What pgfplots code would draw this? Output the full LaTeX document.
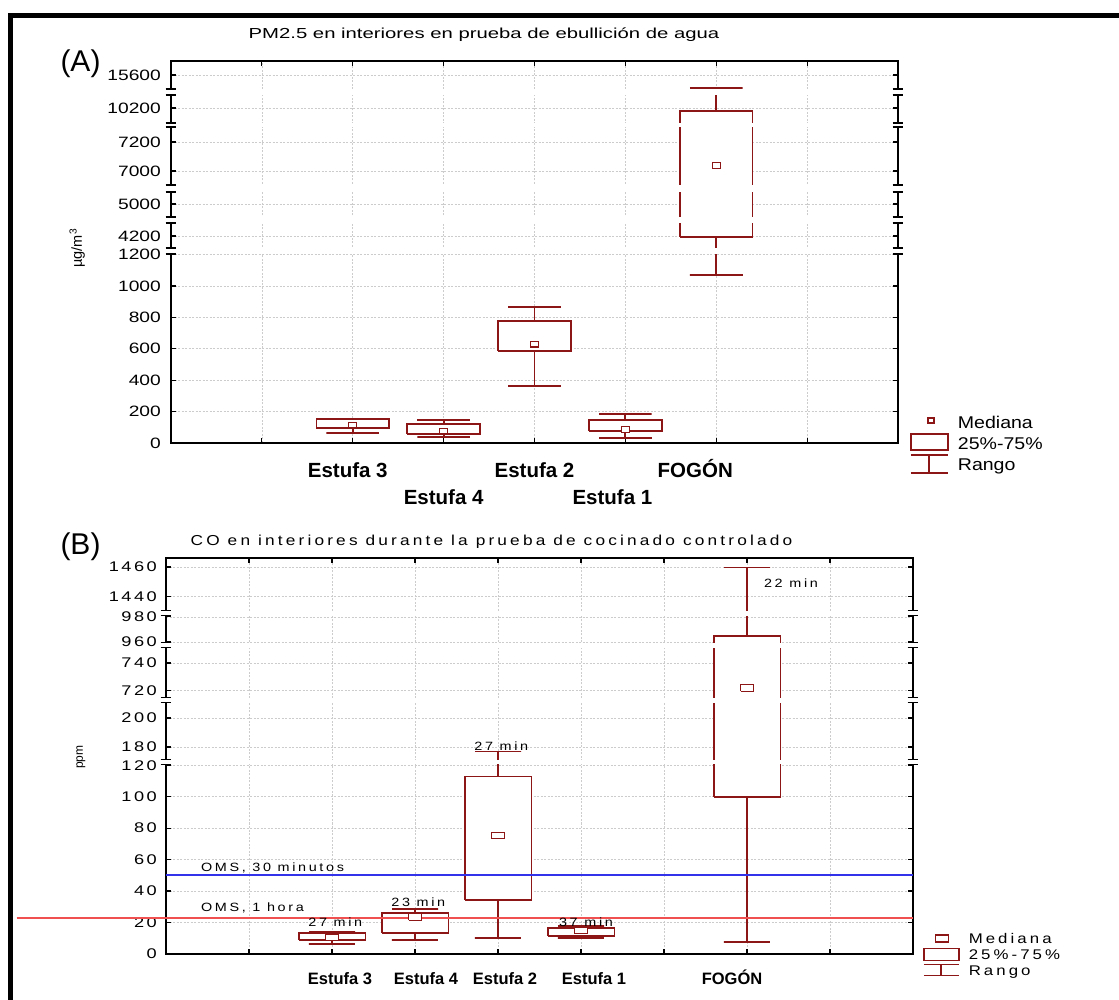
\documentclass[border=0pt]{standalone}
\usepackage{pgfplots}
\pgfplotsset{compat=1.18}
\usepackage{fontspec}
\setmainfont{Liberation Sans}
\newfontfamily\tickAfont{Liberation Sans}[FakeStretch=1.28]
\newfontfamily\titleAfont{Liberation Sans}[FakeStretch=1.4]
\newfontfamily\legAfont{Liberation Sans}[FakeStretch=1.15]
\newfontfamily\spaced{Liberation Sans}[FakeStretch=1.2,LetterSpace=22]
\newfontfamily\spacedT{Liberation Sans}[FakeStretch=1.3,LetterSpace=18]
\definecolor{boxred}{RGB}{140,22,22}
\definecolor{ohred}{RGB}{240,80,80}
\definecolor{whoblue}{RGB}{50,50,235}

% axis-break bands (white gap + short caps on both vertical axis lines)
\newcommand{\brkA}[2]{%
  \fill[white] (axis cs:-0.07,#1) rectangle (axis cs:8.07,#2);
  \draw[black,line width=1.3pt] (axis cs:-0.06,#1) -- (axis cs:0.06,#1)
     (axis cs:-0.06,#2) -- (axis cs:0.06,#2)
     (axis cs:7.94,#1) -- (axis cs:8.06,#1)
     (axis cs:7.94,#2) -- (axis cs:8.06,#2);}
\newcommand{\brkB}[2]{%
  \fill[white] (axis cs:-0.075,#1) rectangle (axis cs:9.075,#2);
  \draw[black,line width=1.2pt] (axis cs:-0.065,#1) -- (axis cs:0.065,#1)
     (axis cs:-0.065,#2) -- (axis cs:0.065,#2)
     (axis cs:8.935,#1) -- (axis cs:9.065,#1)
     (axis cs:8.935,#2) -- (axis cs:9.065,#2);}

\pgfplotsset{
  bA/.style={draw=boxred, fill=white, line width=1.8pt, line join=miter, forget plot},
  wA/.style={draw=boxred, line width=1.8pt, forget plot},
  mA/.style={draw=boxred, fill=white, line width=1.1pt, forget plot},
  bB/.style={draw=boxred, fill=white, line width=1.4pt, line join=miter, forget plot},
  wB/.style={draw=boxred, line width=1.4pt, forget plot},
  mB/.style={draw=boxred, fill=white, line width=1pt, forget plot},
  common/.style={scale only axis, clip=false,
    tick align=inside, major tick length=5pt,
    tick style={black, line width=1.2pt},
    grid=major,
    major grid style={gray!40, line width=0.6pt, dash pattern=on 2pt off 1.5pt}},
}

\begin{document}
\begin{tikzpicture}
\path[use as bounding box] (0pt,0pt) rectangle (1119pt,999pt);
\draw[line width=5pt] (10.5pt,-20pt) -- (10.5pt,983.5pt) -- (1140pt,983.5pt);

% ---------------- Panel A ----------------
\begin{axis}[common,
  at={(171pt,556pt)}, anchor=south west,
  width=727pt, height=382pt,
  xmin=0, xmax=8, ymin=0, ymax=2433,
  axis line style={line width=1.8pt},
  xtick={1,2,3,4,5,6,7},
  xticklabels={{}, {\hspace*{-10pt}Estufa 3}, {\raisebox{-27pt}{Estufa 4}}, {Estufa 2}, {\raisebox{-27pt}{\hspace*{-26pt}Estufa 1}}, {\hspace*{-42pt}FOGÓN}, {}},
  xticklabel style={anchor=north, inner sep=0pt, text height=15pt, yshift=-19pt, font=\bfseries\fontsize{20.5}{24}\selectfont},
  ytick={0,200,400,600,800,1000,1200,1318.5,1522,1732.5,1917,2134,2344},
  yticklabels={0,200,400,600,800,1000,1200,4200,5000,7000,7200,10200,15600},
  yticklabel style={anchor=east, inner sep=0pt, xshift=-10pt, font=\tickAfont\fontsize{15}{18}\selectfont},
  ylabel={µg/m\textsuperscript{3}},
  ylabel style={at={(axis description cs:-0.129,0.51)}, anchor=center, font=\fontsize{14.5}{16}\selectfont},
  legend style={at={(axis description cs:1.0165,0.0785)}, anchor=north west, draw=none, fill=none,
    inner sep=0pt, outer sep=0pt, row sep=0pt, column sep=0pt,
    cells={anchor=base west}, nodes={inner sep=0pt, text height=15pt, text depth=5pt},
    font=\legAfont\fontsize{17}{20}\selectfont},
]
% boxes (25%-75%)
\addplot[bA] coordinates {(1.6,96) (2.4,96) (2.4,153) (1.6,153) (1.6,96)};
\addplot[bA] coordinates {(2.6,57) (3.4,57) (3.4,121) (2.6,121) (2.6,57)};
\addplot[bA] coordinates {(3.6,586) (4.4,586) (4.4,777) (3.6,777) (3.6,586)};
\addplot[bA] coordinates {(4.6,76) (5.4,76) (5.4,146) (4.6,146) (4.6,76)};
\addplot[bA] coordinates {(5.6,1310) (6.4,1310) (6.4,2114.5) (5.6,2114.5) (5.6,1310)};
% whiskers (Rango)
\addplot[wA] coordinates {(1.71,156) (2.29,156) (2,156) (2,153)};
\addplot[wA] coordinates {(2,96) (2,64) (1.71,64) (2.29,64)};
\addplot[wA] coordinates {(2.71,146) (3.29,146) (3,146) (3,121)};
\addplot[wA] coordinates {(3,57) (3,38) (2.71,38) (3.29,38)};
\addplot[wA] coordinates {(3.71,866) (4.29,866) (4,866) (4,777)};
\addplot[wA] coordinates {(4,586) (4,363) (3.71,363) (4.29,363)};
\addplot[wA] coordinates {(4.71,183) (5.29,183) (5,183) (5,146)};
\addplot[wA] coordinates {(5,76) (5,34) (4.71,34) (5.29,34)};
\addplot[wA] coordinates {(5.71,2261) (6.29,2261) (6,2261) (6,2114.5)};
\addplot[wA] coordinates {(6,1310) (6,1070) (5.71,1070) (6.29,1070)};
\brkA{1203.8}{1242}
\brkA{1401.2}{1439.4}
\brkA{1598.6}{1643}
\brkA{2012.6}{2038}
\brkA{2216.5}{2254.7}
% medians
\addplot[mA] coordinates {(1.954,96.6) (2.046,96.6) (2.046,133.4) (1.954,133.4) (1.954,96.6)};
\addplot[mA] coordinates {(2.954,57.6) (3.046,57.6) (3.046,94.4) (2.954,94.4) (2.954,57.6)};
\addplot[mA] coordinates {(3.954,611.6) (4.046,611.6) (4.046,648.4) (3.954,648.4) (3.954,611.6)};
\addplot[mA] coordinates {(4.954,67.6) (5.046,67.6) (5.046,104.4) (4.954,104.4) (4.954,67.6)};
\addplot[mA] coordinates {(5.954,1749.6) (6.046,1749.6) (6.046,1786.4) (5.954,1786.4) (5.954,1749.6)};
\addlegendimage{legend image code/.code={\path[draw=none,fill=none] (0pt,0pt) -- (47pt,0pt); \draw[boxred,line width=1.3pt,fill=white] (17pt,5.1pt) rectangle (23pt,10.1pt);}}
\addlegendimage{legend image code/.code={\path[draw=none,fill=none] (0pt,0pt) -- (47pt,0pt); \draw[boxred,line width=1.8pt,fill=none] (0pt,-0.9pt) rectangle (37pt,15.1pt);}}
\addlegendimage{legend image code/.code={\path[draw=none,fill=none] (0pt,0pt) -- (47pt,0pt); \draw[boxred,line width=1.8pt] (0pt,15.1pt) -- (37pt,15.1pt) (18.5pt,15.1pt) -- (18.5pt,-2.9pt) (0pt,-2.9pt) -- (37pt,-2.9pt);}}
\legend{Mediana, 25\%-75\%, Rango}
\end{axis}

\node[font=\titleAfont\fontsize{14.5}{17}\selectfont] at (484pt,964pt) {PM2.5 en interiores en prueba de ebullición de agua};
\node[font=\fontsize{30}{34}\selectfont] at (80.5pt,935pt) {(A)};

% ---------------- Panel B ----------------
\begin{axis}[common,
  at={(166pt,45pt)}, anchor=south west,
  width=747pt, height=396pt,
  xmin=0, xmax=9, ymin=0, ymax=251.7,
  axis line style={line width=1.7pt},
  xtick={1,2,3,4,5,6,7,8},
  xticklabels={{}, {\hspace*{16pt}Estufa 3}, {\hspace*{22pt}Estufa 4}, {\hspace*{14pt}Estufa 2}, {\hspace*{26pt}Estufa 1}, {}, {\hspace*{-30pt}FOGÓN}, {}},
  xticklabel style={anchor=north, inner sep=0pt, text height=12pt, yshift=-18pt, font=\bfseries\fontsize{16.5}{20}\selectfont},
  ytick={0,20,40,60,80,100,120,131.6,150,167.3,185,198.3,214.3,227.2,246},
  yticklabels={0,20,40,60,80,100,120,180,200,720,740,960,980,1440,1460},
  yticklabel style={anchor=east, inner sep=0pt, xshift=-9pt, font=\spacedT\fontsize{14}{16}\selectfont},
  ylabel={ppm},
  ylabel style={at={(axis description cs:-0.114,0.497)}, anchor=center, font=\fontsize{12}{14}\selectfont},
  legend style={at={(axis description cs:1.0134,0.0518)}, anchor=north west, draw=none, fill=none,
    inner sep=0pt, outer sep=0pt, row sep=0pt, column sep=0pt,
    cells={anchor=base west}, nodes={inner sep=0pt, text height=10.5pt, text depth=4pt},
    font=\spaced\fontsize{14}{17}\selectfont},
]
% boxes
\addplot[bB] coordinates {(1.6,8.9) (2.4,8.9) (2.4,13.3) (1.6,13.3) (1.6,8.9)};
\addplot[bB] coordinates {(2.6,13.3) (3.4,13.3) (3.4,26.0) (2.6,26.0) (2.6,13.3)};
\addplot[bB] coordinates {(3.6,34.3) (4.4,34.3) (4.4,113) (3.6,113) (3.6,34.3)};
\addplot[bB] coordinates {(4.6,11.4) (5.4,11.4) (5.4,16.5) (4.6,16.5) (4.6,11.4)};
\addplot[bB] coordinates {(6.6,99.8) (7.4,99.8) (7.4,202.2) (6.6,202.2) (6.6,99.8)};
% whiskers
\addplot[wB] coordinates {(1.72,14.0) (2.28,14.0) (2,14.0) (2,13.3)};
\addplot[wB] coordinates {(2,8.9) (2,6.4) (1.72,6.4) (2.28,6.4)};
\addplot[wB] coordinates {(2.72,28.6) (3.28,28.6) (3,28.6) (3,26.0)};
\addplot[wB] coordinates {(3,13.3) (3,8.9) (2.72,8.9) (3.28,8.9)};
\addplot[wB] coordinates {(3.72,128.9) (4.28,128.9) (4,128.9) (4,113)};
\addplot[wB] coordinates {(4,34.3) (4,10.2) (3.72,10.2) (4.28,10.2)};
\addplot[wB] coordinates {(4.72,17.8) (5.28,17.8) (5,17.8) (5,16.5)};
\addplot[wB] coordinates {(5,11.4) (5,10.2) (4.72,10.2) (5.28,10.2)};
\addplot[wB] coordinates {(6.72,245.5) (7.28,245.5) (7,245.5) (7,202.2)};
\addplot[wB] coordinates {(7,99.8) (7,7.6) (6.72,7.6) (7.28,7.6)};
% WHO limits
\addplot[draw=whoblue, line width=2pt, forget plot] coordinates {(0,50) (9,50)};
\addplot[draw=ohred, line width=1.6pt, forget plot] coordinates {(-1.80,23) (9,23)};
\brkB{120.5}{123.4}
\brkB{159.6}{162.8}
\brkB{194.6}{197.8}
\brkB{214.9}{218.1}
% medians
\addplot[mB] coordinates {(1.922,8.43) (2.078,8.43) (2.078,12.57) (1.922,12.57) (1.922,8.43)};
\addplot[mB] coordinates {(2.922,21.43) (3.078,21.43) (3.078,25.57) (2.922,25.57) (2.922,21.43)};
\addplot[mB] coordinates {(3.922,73.13) (4.078,73.13) (4.078,77.27) (3.922,77.27) (3.922,73.13)};
\addplot[mB] coordinates {(4.922,12.83) (5.078,12.83) (5.078,16.97) (4.922,16.97) (4.922,12.83)};
\addplot[mB] coordinates {(6.922,167.13) (7.078,167.13) (7.078,171.27) (6.922,171.27) (6.922,167.13)};
\node[font=\spaced\fontsize{12}{14}\selectfont] at (axis cs:2.04,20.4) {27 min};
\node[font=\spaced\fontsize{12}{14}\selectfont] at (axis cs:3.04,33.1) {23 min};
\node[font=\spaced\fontsize{12}{14}\selectfont] at (axis cs:4.04,132.3) {27 min};
\node[font=\spaced\fontsize{12}{14}\selectfont] at (axis cs:5.06,20.4) {37 min};
\node[font=\spaced\fontsize{12}{14}\selectfont] at (axis cs:7.53,236) {22 min};
\node[font=\spaced\fontsize{12}{14}\selectfont, anchor=west, inner sep=0pt] at (axis cs:0.42,54.7) {OMS, 30 minutos};
\node[font=\spaced\fontsize{12}{14}\selectfont, anchor=west, inner sep=0pt] at (axis cs:0.42,29.3) {OMS, 1 hora};
\addlegendimage{legend image code/.code={\path[draw=none,fill=none] (0pt,0pt) -- (45pt,0pt); \draw[boxred,line width=1.1pt,fill=white] (12pt,2pt) rectangle (25pt,9pt);}}
\addlegendimage{legend image code/.code={\path[draw=none,fill=none] (0pt,0pt) -- (45pt,0pt); \draw[boxred,line width=1.5pt,fill=none] (0pt,-1pt) rectangle (35pt,11pt);}}
\addlegendimage{legend image code/.code={\path[draw=none,fill=none] (0pt,0pt) -- (45pt,0pt); \draw[boxred,line width=1.5pt] (0pt,11pt) -- (35pt,11pt) (17pt,11pt) -- (17pt,0pt) (0pt,0pt) -- (35pt,0pt);}}
\legend{Mediana, 25\%-75\%, Rango}
\end{axis}

\node[font=\spaced\fontsize{14.4}{17}\selectfont] at (491.5pt,457pt) {CO en interiores durante la prueba de cocinado controlado};
\node[font=\fontsize{30}{34}\selectfont] at (80.5pt,452pt) {(B)};
\end{tikzpicture}
\end{document}
